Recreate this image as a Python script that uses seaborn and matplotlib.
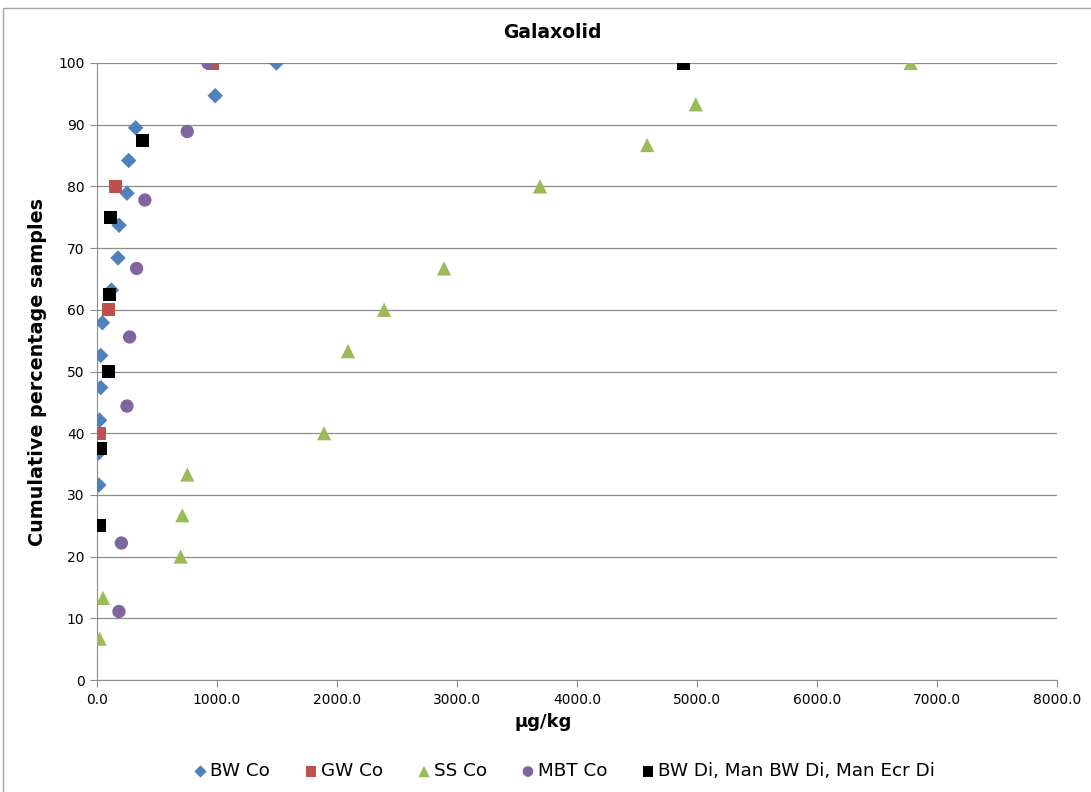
import pandas as pd
import numpy as np
import matplotlib.pyplot as plt
import seaborn as sns
from matplotlib.patches import Rectangle

# values (x in ug/kg, y in cumulative %)
bw_co_x = [15, 14, 22, 31, 31, 45, 120, 175, 184, 250, 264, 322, 985, 1495]
bw_co_y = [31.6, 36.8, 42.1, 47.4, 52.6, 57.9, 63.2, 68.4, 73.7, 78.9, 84.2, 89.5, 94.7, 100]

gw_co_x = [17, 92, 156, 962]
gw_co_y = [40, 60, 80, 100]

ss_co_x = [22, 50, 697, 711, 753, 1892, 2092, 2392, 2892, 3692, 4585, 4990, 6780]
ss_co_y = [6.7, 13.3, 20.0, 26.7, 33.3, 40.0, 53.3, 60.0, 66.7, 80.0, 86.7, 93.3, 100]

mbt_co_x = [183, 203, 250, 272, 330, 399, 752, 925]
mbt_co_y = [11.1, 22.2, 44.4, 55.6, 66.7, 77.8, 88.9, 100]

bw_di_x = [22, 28, 92, 106, 111, 378, 4890]
bw_di_y = [25.0, 37.5, 50.0, 62.5, 75.0, 87.5, 100]

series = ['BW Co', 'GW Co', 'SS Co', 'MBT Co', 'BW Di, Man BW Di, Man Ecr Di']
xs = [bw_co_x, gw_co_x, ss_co_x, mbt_co_x, bw_di_x]
ys = [bw_co_y, gw_co_y, ss_co_y, mbt_co_y, bw_di_y]

df = pd.concat([pd.DataFrame({'x': x, 'y': y, 'series': s}) for s, x, y in zip(series, xs, ys)],
               ignore_index=True)

colors = dict(zip(series, ['#4F81BD', '#C0504D', '#9BBB59', '#8064A2', '#000000']))
markers = dict(zip(series, ['D', 's', '^', 'o', 's']))
sizes = dict(zip(series, [62, 88, 105, 92, 88]))

sns.set_style('white')
plt.rcParams['font.family'] = ['DejaVu Sans']
plt.rcParams['text.color'] = 'black'
plt.rcParams['axes.labelcolor'] = 'black'
plt.rcParams['xtick.color'] = 'black'
plt.rcParams['ytick.color'] = 'black'

fig = plt.figure(figsize=(10.91, 7.92), dpi=100)
ax = fig.add_axes([97 / 1091, 1 - 680 / 792, 960 / 1091, 617 / 792])

# outer chart border
fig.patches.append(Rectangle((3 / 1091, -0.01), 1.1, 1 - 8 / 792 + 0.01, transform=fig.transFigure,
                             fill=False, edgecolor='#a6a6a6', linewidth=1.0))

for s in series:
    d = df[df['series'] == s]
    sns.scatterplot(data=d, x='x', y='y', ax=ax, color=colors[s], marker=markers[s],
                    s=sizes[s], edgecolor='none', linewidth=0, label=s, zorder=3)

ax.set_xlim(0, 8000)
ax.set_ylim(0, 100)
ax.set_xticks(np.arange(0, 8001, 1000))
ax.set_xticklabels([f'{v:.1f}' for v in np.arange(0, 8001, 1000)])
ax.set_yticks(np.arange(0, 101, 10))
ax.grid(axis='y', color='#8c8c8c', linewidth=0.9)
ax.grid(axis='x', visible=False)
ax.set_axisbelow(True)
for side in ['top', 'right']:
    ax.spines[side].set_visible(False)
for side in ['left', 'bottom']:
    ax.spines[side].set_color('#8c8c8c')
ax.tick_params(axis='both', length=5, color='#8c8c8c', labelcolor='black', labelsize=10,
               direction='out', left=True, bottom=True, pad=4)

ax.set_title('Galaxolid', fontsize=13.5, fontweight='bold', pad=18, x=0.474, color='black')
ax.set_xlabel('µg/kg', fontsize=13, fontweight='bold', color='black')
ax.xaxis.set_label_coords(0.465, -0.053)
ax.set_ylabel('Cumulative percentage samples', fontsize=13.8, fontweight='bold', labelpad=8,
              color='black')

handles, labels = ax.get_legend_handles_labels()
leg = ax.legend(handles, labels, loc='center', bbox_to_anchor=(0.5 - 14 / 960, -0.148), ncol=5,
                frameon=False, fontsize=13.2, handletextpad=0.02, columnspacing=1.75,
                markerscale=0.8, handlelength=1.0)
for t in leg.get_texts():
    t.set_color('black')

fig.savefig('out.png', dpi=100)
